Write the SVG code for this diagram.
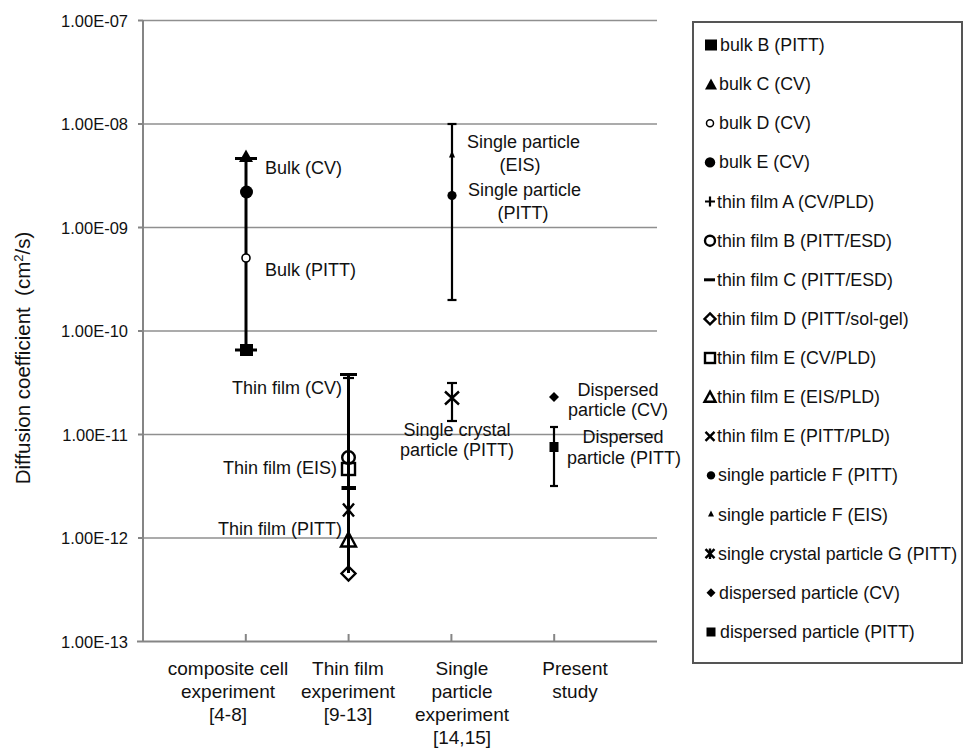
<svg xmlns="http://www.w3.org/2000/svg" width="965" height="750" viewBox="0 0 965 750">
<style>
text{font-family:"Liberation Sans",Arial,sans-serif;fill:#111}
.tick{font-size:16.5px;text-anchor:end}
.cat{font-size:19px;text-anchor:middle}
.lbl{font-size:18px}
.leg{font-size:17.8px}
.grid{stroke:#8f8f8f;stroke-width:1.5;fill:none}
.axis{stroke:#858585;stroke-width:2;fill:none}
.bar{stroke:#000;stroke-width:3;fill:none}
.thin{stroke:#000;stroke-width:2.2;fill:none}
.open{stroke:#000;stroke-width:2.4;fill:none}
.solid{fill:#000;stroke:none}
</style>
<rect x="0" y="0" width="965" height="750" fill="#fff"/>
<g id="grid">
<line class="grid" x1="143" y1="20.5" x2="657" y2="20.5"/>
<line class="grid" x1="143" y1="124" x2="657" y2="124"/>
<line class="grid" x1="143" y1="227.5" x2="657" y2="227.5"/>
<line class="grid" x1="143" y1="331" x2="657" y2="331"/>
<line class="grid" x1="143" y1="434.5" x2="657" y2="434.5"/>
<line class="grid" x1="143" y1="538" x2="657" y2="538"/>
</g>
<g id="axes">
<line class="axis" x1="143" y1="20" x2="143" y2="642"/>
<line class="axis" x1="137" y1="641.5" x2="657" y2="641.5"/>
<g class="axis">
<line x1="138" y1="20.5" x2="143" y2="20.5"/>
<line x1="138" y1="124" x2="143" y2="124"/>
<line x1="138" y1="227.5" x2="143" y2="227.5"/>
<line x1="138" y1="331" x2="143" y2="331"/>
<line x1="138" y1="434.5" x2="143" y2="434.5"/>
<line x1="138" y1="538" x2="143" y2="538"/>
<line x1="245.8" y1="634" x2="245.8" y2="641"/>
<line x1="348.6" y1="634" x2="348.6" y2="641"/>
<line x1="451.4" y1="634" x2="451.4" y2="641"/>
<line x1="554.2" y1="634" x2="554.2" y2="641"/>
</g>
<text class="tick" x="128" y="26.5">1.00E-07</text>
<text class="tick" x="128" y="130">1.00E-08</text>
<text class="tick" x="128" y="233.5">1.00E-09</text>
<text class="tick" x="128" y="337">1.00E-10</text>
<text class="tick" x="128" y="440.5">1.00E-11</text>
<text class="tick" x="128" y="544">1.00E-12</text>
<text class="tick" x="128" y="647.5">1.00E-13</text>
<text class="cat" x="228" y="675">composite cell</text>
<text class="cat" x="228" y="698">experiment</text>
<text class="cat" x="228" y="721">[4-8]</text>
<text class="cat" x="348" y="675">Thin film</text>
<text class="cat" x="348" y="698">experiment</text>
<text class="cat" x="348" y="721">[9-13]</text>
<text class="cat" x="462" y="675">Single</text>
<text class="cat" x="462" y="698">particle</text>
<text class="cat" x="462" y="721">experiment</text>
<text class="cat" x="462" y="744">[14,15]</text>
<text class="cat" x="575" y="675">Present</text>
<text class="cat" x="575" y="698">study</text>
<text x="30" y="358" font-size="20.5" text-anchor="middle" transform="rotate(-90 30 358)">Diffusion coefficient &#160;(cm<tspan font-size="13" dy="-7">2</tspan><tspan dy="7">/s)</tspan></text>
</g>
<g id="composite-cell">
<line class="bar" x1="246" y1="158" x2="246" y2="350"/>
<line class="bar" x1="235" y1="158.5" x2="257" y2="158.5"/>
<polygon class="solid" points="246,149.5 253,162 239,162"/>
<circle class="solid" cx="246.5" cy="192" r="6.5"/>
<circle cx="246" cy="258" r="4" fill="#fff" stroke="#000" stroke-width="1.6"/>
<line class="bar" x1="235" y1="350" x2="257" y2="350"/>
<rect class="solid" x="240" y="344" width="13" height="12"/>
<text class="lbl" x="265" y="174">Bulk (CV)</text>
<text class="lbl" x="265" y="276">Bulk (PITT)</text>
</g>
<g id="thin-film">
<line class="bar" x1="348.5" y1="374" x2="348.5" y2="573"/>
<line class="bar" x1="340" y1="374.5" x2="357" y2="374.5"/>
<line class="thin" x1="343" y1="378" x2="354" y2="378"/>
<circle class="open" cx="348.5" cy="457.5" r="6.3"/>
<rect class="open" x="342" y="463" width="13" height="12"/>
<line stroke="#000" stroke-width="4" x1="341.5" y1="488" x2="356" y2="488"/>
<path class="open" stroke-width="3.2" d="M343 503.5 L354 516.5 M354 503.5 L343 516.5"/>
<polygon class="open" points="348.5,532.5 356,546.5 341,546.5"/>
<polygon class="open" points="348.5,566.5 355.5,573.5 348.5,580.5 341.5,573.5"/>
<text class="lbl" x="342" y="394" text-anchor="end">Thin film (CV)</text>
<text class="lbl" x="337" y="474" text-anchor="end">Thin film (EIS)</text>
<text class="lbl" x="342" y="535" text-anchor="end">Thin film (PITT)</text>
</g>
<g id="single-particle">
<line class="thin" stroke-width="2.5" x1="452" y1="124" x2="452" y2="300"/>
<line class="thin" x1="447.5" y1="124" x2="456.5" y2="124"/>
<line class="thin" x1="447.5" y1="300" x2="456.5" y2="300"/>
<polygon class="solid" points="452,150.5 455,157.5 449,157.5"/>
<circle class="solid" cx="452" cy="195.5" r="4.6"/>
<text class="lbl" x="467" y="148">Single particle</text>
<text class="lbl" x="520" y="171" text-anchor="middle">(EIS)</text>
<text class="lbl" x="468" y="196">Single particle</text>
<text class="lbl" x="523" y="219" text-anchor="middle">(PITT)</text>
</g>
<g id="single-crystal">
<line class="thin" x1="452" y1="383" x2="452" y2="421"/>
<line class="thin" x1="447" y1="383" x2="457" y2="383"/>
<line class="thin" x1="447" y1="421" x2="457" y2="421"/>
<path class="open" stroke-width="2" d="M445 391.5 L459 404.5 M459 391.5 L445 404.5"/>
<text class="lbl" x="457" y="436" text-anchor="middle">Single crystal</text>
<text class="lbl" x="457" y="456" text-anchor="middle">particle (PITT)</text>
</g>
<g id="present-study">
<polygon class="solid" points="554,392 559,397 554,402 549,397"/>
<line class="thin" x1="554" y1="427" x2="554" y2="486"/>
<line class="thin" x1="550" y1="427" x2="558" y2="427"/>
<line class="thin" x1="550" y1="486" x2="558" y2="486"/>
<rect class="solid" x="549.5" y="442" width="9" height="10"/>
<text class="lbl" x="618" y="396" text-anchor="middle">Dispersed</text>
<text class="lbl" x="618" y="416" text-anchor="middle">particle (CV)</text>
<text class="lbl" x="623" y="443" text-anchor="middle">Dispersed</text>
<text class="lbl" x="624" y="464" text-anchor="middle">particle (PITT)</text>
</g>
<g id="legend">
<rect x="693" y="22" width="269" height="641" fill="#fff" stroke="#555" stroke-width="2"/>
<rect class="solid" x="705" y="39.5" width="12" height="11"/>
<text class="leg" x="720" y="51">bulk B (PITT)</text>
<polygon class="solid" points="711,78.5 717,89.5 705,89.5"/>
<text class="leg" x="719" y="90.1">bulk C (CV)</text>
<circle cx="710" cy="123.3" r="3.5" fill="#fff" stroke="#000" stroke-width="1.5"/>
<text class="leg" x="719" y="129.3">bulk D (CV)</text>
<circle class="solid" cx="710" cy="162.4" r="5.2"/>
<text class="leg" x="719" y="168.4">bulk E (CV)</text>
<path class="thin" stroke-width="2.2" d="M705 201.5 H715 M710 196.5 V206.5"/>
<text class="leg" x="717" y="207.5">thin film A (CV/PLD)</text>
<circle class="open" cx="710" cy="240.7" r="5"/>
<text class="leg" x="717" y="246.7">thin film B (PITT/ESD)</text>
<line stroke="#000" stroke-width="3" x1="704" y1="279.8" x2="715" y2="279.8"/>
<text class="leg" x="717" y="285.8">thin film C (PITT/ESD)</text>
<polygon class="open" stroke-width="2.2" points="710,313.4 715.5,318.9 710,324.4 704.5,318.9"/>
<text class="leg" x="717" y="324.9">thin film D (PITT/sol-gel)</text>
<rect class="open" stroke-width="2.2" x="705" y="353" width="10" height="10"/>
<text class="leg" x="717" y="364">thin film E (CV/PLD)</text>
<polygon class="open" stroke-width="2.2" points="710,391.7 715.5,401.7 704.5,401.7"/>
<text class="leg" x="717" y="403.2">thin film E (EIS/PLD)</text>
<path class="open" stroke-width="2.8" d="M705.5 431.8 L714.5 440.8 M714.5 431.8 L705.5 440.8"/>
<text class="leg" x="717" y="442.3">thin film E (PITT/PLD)</text>
<circle class="solid" cx="711" cy="475.4" r="4.2"/>
<text class="leg" x="718" y="481.4">single particle F (PITT)</text>
<polygon class="solid" points="711,510.6 714,516.6 708,516.6"/>
<text class="leg" x="718" y="520.6">single particle F (EIS)</text>
<path class="open" stroke-width="1.8" d="M705.5 549.2 L714.5 558.2 M714.5 549.2 L705.5 558.2 M710 548.5 V559"/>
<text class="leg" x="718" y="559.7">single crystal particle G (PITT)</text>
<polygon class="solid" points="711,588.3 715.5,592.8 711,597.3 706.5,592.8"/>
<text class="leg" x="719" y="598.8">dispersed particle (CV)</text>
<rect class="solid" x="706.5" y="627.5" width="9" height="9"/>
<text class="leg" x="720" y="638">dispersed particle (PITT)</text>
</g>
</svg>
